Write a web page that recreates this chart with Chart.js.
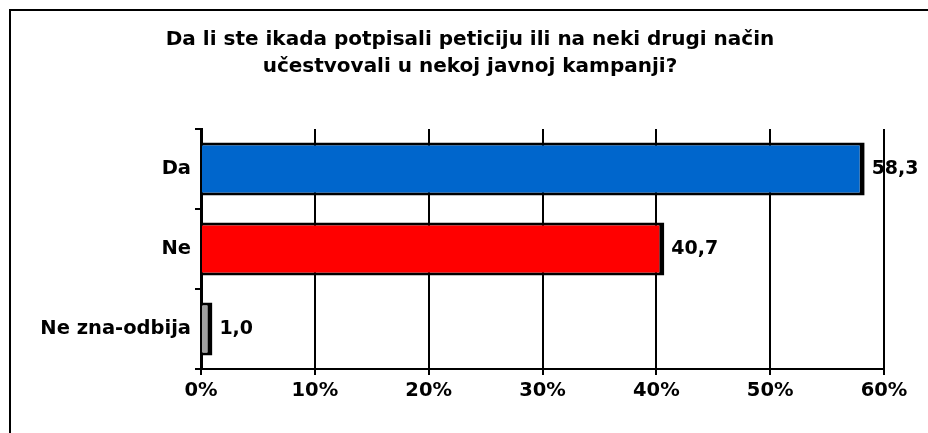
<!DOCTYPE html>
<html>
<head>
<meta charset="utf-8">
<script src="https://cdn.jsdelivr.net/npm/chart.js@4/dist/chart.umd.min.js"></script>
<style>
    body { margin: 0; background: #fff; overflow: hidden; }
    #frame { position: absolute; left: 9px; top: 9px; width: 1000px; height: 1000px; border-left: 2px solid #000; border-top: 2px solid #000; }
    #wrap { position: absolute; left: 0; top: 0; width: 928px; height: 433px; }
</style>
</head>
<body>
<div id="frame"></div>
<div id="wrap"><canvas id="chart" width="928" height="433"></canvas></div>
<script>
// Data
const titleLines = ['Da li ste ikada potpisali peticiju ili na neki drugi način', 'učestvovali u nekoj javnoj kampanji?'];
const categories = ['Da', 'Ne', 'Ne zna-odbija'];
const values = [58.3, 40.7, 1.0];
const barColors = ['#0066CC', '#FF0000', '#A0A0A0'];
const xTicks = [0, 10, 20, 30, 40, 50, 60];

const labelFont = { family: 'DejaVu Sans', size: 19.5, weight: 'bold' };

// Value labels at bar ends, decimal comma
const valueLabels = {
    id: 'valueLabels',
    afterDatasetsDraw(chart) {
        const ctx = chart.ctx;
        const meta = chart.getDatasetMeta(0);
        ctx.save();
        ctx.font = 'bold 19px "DejaVu Sans"';
        ctx.fillStyle = '#000';
        ctx.textBaseline = 'middle';
        ctx.textAlign = 'left';
        meta.data.forEach((bar, i) => {
            ctx.fillText(values[i].toFixed(1).replace('.', ','), bar.x + 7, bar.y);
        });
        ctx.restore();
    }
};

new Chart(document.getElementById('chart').getContext('2d'), {
    type: 'bar',
    data: {
        labels: categories,
        datasets: [{
            data: values,
            backgroundColor: barColors,
            borderColor: '#000',
            borderWidth: { top: 3, right: 5, bottom: 3, left: 0 },
            borderSkipped: false,
            categoryPercentage: 1,
            barPercentage: 0.66
        }]
    },
    options: {
        indexAxis: 'y',
        responsive: false,
        animation: false,
        layout: { padding: { left: 12, right: 0, top: 0, bottom: 0 } },
        plugins: {
            legend: { display: false },
            tooltip: { enabled: false },
            title: {
                display: true,
                text: titleLines,
                color: '#000',
                font: { family: 'DejaVu Sans', size: 20, weight: 'bold', lineHeight: 1.35 },
                padding: { top: 26, bottom: 49 }
            }
        },
        scales: {
            x: {
                min: 0,
                max: 60,
                afterBuildTicks(scale) {
                    scale.ticks = xTicks.map(v => ({ value: v }));
                },
                afterFit(scale) { scale.height = 64; },
                grid: { color: '#000', lineWidth: 2, tickLength: 6 },
                border: { color: '#000', width: 2 },
                ticks: {
                    color: '#000',
                    font: labelFont,
                    padding: 4,
                    callback: v => v + '%'
                }
            },
            y: {
                afterFit(scale) { scale.width = 189; },
                grid: { color: '#000', lineWidth: 2, tickLength: 6, drawOnChartArea: false },
                border: { color: '#000', width: 3 },
                ticks: { color: '#000', font: labelFont, padding: 4 }
            },
            yRight: {
                type: 'linear',
                position: 'right',
                display: true,
                grid: { display: false },
                border: { display: false },
                ticks: { display: false },
                afterFit(scale) { scale.width = 44; }
            }
        }
    },
    plugins: [valueLabels]
});
</script>
</body>
</html>
